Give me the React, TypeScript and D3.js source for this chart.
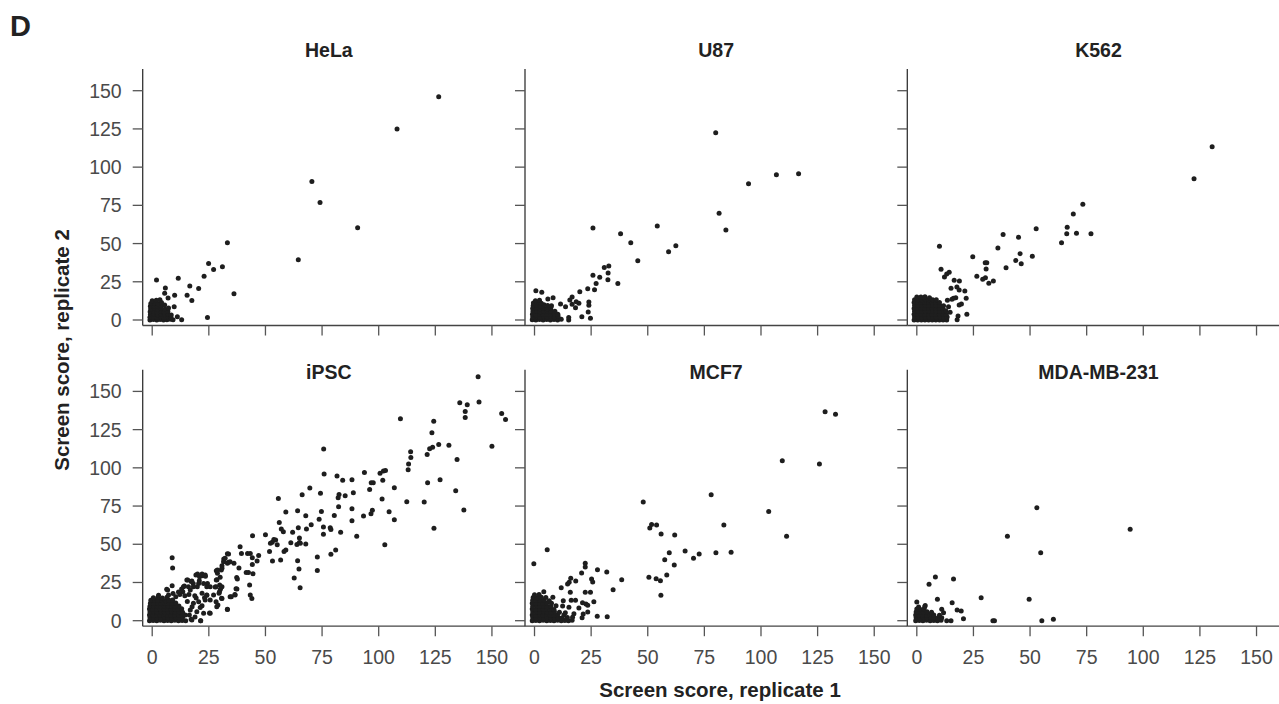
import React from "react";
import * as d3 from "d3";

type Pt = [number, number];

const cellLines = ["HeLa", "U87", "K562", "iPSC", "MCF7", "MDA-MB-231"];
const tickValues = [0, 25, 50, 75, 100, 125, 150];
const xTitle = "Screen score, replicate 1";
const yTitle = "Screen score, replicate 2";

// HeLa: dense cluster near the origin, then the scattered hits
const helaCluster: Pt[] = [
  [-1, 0], [0.5, 0.3], [2, 0], [3.5, 0.4], [5, 0], [6.5, 0.2], [8, 0.5], [9.2, 0.1],
  [-1, 1.8], [0.6, 2], [2.1, 1.6], [3.6, 2.1], [5.2, 1.7], [6.8, 2.2], [8.2, 1.9],
  [-0.8, 3.6], [0.8, 3.8], [2.3, 3.4], [3.9, 3.9], [5.4, 3.5], [7, 3.8], [8.4, 3.3],
  [-0.9, 5.4], [0.7, 5.6], [2.2, 5.2], [3.8, 5.7], [5.3, 5.3], [6.9, 5.8],
  [-0.7, 7.2], [0.9, 7.5], [2.4, 7], [4, 7.6], [5.6, 7.1], [7.2, 7.9],
  [-0.8, 9], [0.8, 9.3], [2.3, 8.9], [3.9, 9.4], [5.5, 9.8],
  [-0.6, 10.8], [1, 11.1], [2.6, 10.7], [4.1, 11.4],
  [0, 12.6], [1.8, 12.9], [3.4, 13.2],
];
const helaHits: Pt[] = [
  [126.5, 146.1], [108.1, 124.9], [70.5, 90.6], [74.1, 76.8], [90.7, 60.4], [64.5, 39.4],
  [33.2, 50.5], [24.9, 37], [27.1, 33], [31, 34.8], [22.9, 28.6], [36.1, 17.1],
  [20.5, 20.6], [16.6, 22.3], [15.4, 16.2], [17.5, 12.7], [11.5, 27.3], [1.9, 26.2],
  [24.4, 1.7], [5.8, 21], [5.5, 17.5], [9.9, 16.2], [7, 14.4], [9.7, 8.7], [11.1, 2.2],
  [13, 0.2],
];

const u87Cluster: Pt[] = [
  [-1, 0.2], [0.6, 0], [2.2, 0.3], [3.8, 0], [5.4, 0.4], [7, 0], [8.6, 0.3], [10.2, 0], [11.8, 0.5],
  [-0.8, 1.9], [0.8, 2.1], [2.4, 1.7], [4, 2.2], [5.6, 1.8], [7.2, 2.3], [8.8, 1.9], [10.4, 2.4],
  [-0.9, 3.8], [0.7, 3.5], [2.3, 4], [3.9, 3.6], [5.5, 4.1], [7.1, 3.7], [8.7, 4.2], [10.3, 3.8],
  [-0.7, 5.6], [0.9, 5.9], [2.5, 5.4], [4.1, 6], [5.7, 5.5], [7.3, 6.1], [9, 5.7],
  [-0.8, 7.5], [0.8, 7.8], [2.4, 7.3], [4, 7.9], [5.6, 7.4], [7.2, 8],
  [-0.6, 9.4], [1, 9.7], [2.6, 9.2], [4.2, 9.9], [5.8, 9.5],
  [-0.5, 11.2], [1.3, 11.5], [3, 11], [0.4, 12.6], [2.2, 12.9],
];
const u87Hits: Pt[] = [
  [80, 122.5], [106.8, 95], [116.6, 95.7], [94.5, 89.2], [81.5, 69.8], [84.5, 58.9],
  [54.2, 61.5], [62.4, 48.5], [59.2, 44.7], [45.6, 38.8], [42.5, 50.5], [38, 56.4],
  [25.8, 60.2], [32.8, 35.3], [30.8, 34.4], [32.5, 30.7], [28.8, 27.9], [32.4, 26.4],
  [36.8, 23.8], [25.8, 29.3], [27.2, 23.8], [26.5, 19.8], [23.5, 20.5], [20, 18.5],
  [24, 11.8], [24, 9.6], [23.7, 5.2], [24.7, 1.1], [20.9, 2.2], [15.1, 0], [15.1, 1.7],
  [16.6, 15], [15.6, 13.1], [18.4, 12], [19.6, 10.9], [18.1, 8], [16.6, 10.3],
  [13.7, 8.7], [11.5, 10.5], [8.2, 14.6], [5.9, 13.7], [3.2, 18.1], [0.6, 19.2], [7.5, 9.4],
];

const k562Cluster: Pt[] = [
  [-1.2, 0], [0.4, 0], [2, 0], [3.6, 0], [5.2, 0], [6.8, 0], [8.4, 0], [10, 0], [11.6, 0], [13.2, 0],
  [-1, 1.9], [0.6, 1.9], [2.2, 1.9], [3.8, 1.9], [5.4, 1.9], [7, 1.9], [8.6, 1.9], [10.2, 1.9], [11.8, 1.9], [13.4, 1.9],
  [-1.2, 3.8], [0.4, 3.8], [2, 3.8], [3.6, 3.8], [5.2, 3.8], [6.8, 3.8], [8.4, 3.8], [10, 3.8], [11.6, 3.8], [13, 3.8],
  [-1, 5.7], [0.6, 5.7], [2.2, 5.7], [3.8, 5.7], [5.4, 5.7], [7, 5.7], [8.6, 5.7], [10.2, 5.7], [11.8, 5.7],
  [-1.2, 7.6], [0.4, 7.6], [2, 7.6], [3.6, 7.6], [5.2, 7.6], [6.8, 7.6], [8.4, 7.6], [10, 7.6], [11.5, 7.6],
  [-1, 9.5], [0.6, 9.5], [2.2, 9.5], [3.8, 9.5], [5.4, 9.5], [7, 9.5], [8.6, 9.5], [10.2, 9.5],
  [-1.2, 11.4], [0.4, 11.4], [2, 11.4], [3.6, 11.4], [5.2, 11.4], [6.8, 11.4], [8.4, 11.4], [10, 11.4],
  [-1, 13.3], [0.6, 13.3], [2.2, 13.3], [3.8, 13.3], [5.4, 13.3], [7, 13.3], [8.6, 13.3],
  [0, 15], [1.8, 15], [3.6, 15.2], [5.6, 14.6],
];
const k562Hits: Pt[] = [
  [130.4, 113.3], [122.4, 92.4], [73.3, 75.7], [69.1, 69.3], [66.4, 60.6], [66.2, 56.5],
  [70.5, 56.7], [76.9, 56.5], [63.9, 50.6], [52.7, 59.7], [51, 41.7], [44.9, 54.1],
  [45.6, 43.4], [43.7, 39], [46.1, 36.8], [38.1, 56], [35.8, 47.1], [39.4, 34.2],
  [24.7, 41.4], [30.2, 37.5], [30.9, 37.5], [30.6, 33.4], [26.5, 28.6], [29.1, 26.6],
  [30.3, 27.7], [31.8, 24], [33.8, 25.5], [10, 48.2], [10.7, 33.2], [12.2, 28.1],
  [13.2, 30.1], [14.3, 31.2], [16.5, 26], [18.8, 25.5], [15.1, 20.7], [17.7, 21.6],
  [18.7, 19.6], [21.2, 19], [17.2, 14.6], [19.7, 10.5], [18.7, 9.8], [21.8, 14.2],
  [22.1, 3.7], [18.2, 2.6], [17.8, 0.2], [13.5, 12.9], [15.5, 13.5], [16.2, 14.2],
  [14, 8.7], [11.8, 9.4], [12.8, 6.1], [14.7, 5],
];

const ipscCluster: Pt[] = [
  [-1.2, 0], [0.4, 0.2], [2, 0], [3.6, 0.3], [5.2, 0], [6.8, 0.2], [8.4, 0], [10, 0.3], [11.6, 0], [13.2, 0.2], [14.8, 0],
  [-1, 1.9], [0.6, 1.7], [2.2, 2], [3.8, 1.8], [5.4, 2.1], [7, 1.9], [8.6, 1.7], [10.2, 2], [11.8, 1.8], [13.4, 2.1],
  [-1.2, 3.8], [0.4, 3.6], [2, 3.9], [3.6, 3.7], [5.2, 4], [6.8, 3.8], [8.4, 3.6], [10, 3.9], [11.6, 3.7], [13.2, 4], [14.6, 3.8],
  [-1, 5.7], [0.6, 5.9], [2.2, 5.6], [3.8, 5.8], [5.4, 5.5], [7, 5.7], [8.6, 5.9], [10.2, 5.6], [11.8, 5.8], [13.4, 5.5],
  [-1.2, 7.6], [0.4, 7.4], [2, 7.7], [3.6, 7.5], [5.2, 7.8], [6.8, 7.6], [8.4, 7.4], [10, 7.7], [11.6, 7.5], [13, 7.8],
  [-1, 9.5], [0.6, 9.7], [2.2, 9.4], [3.8, 9.6], [5.4, 9.3], [7, 9.5], [8.6, 9.7], [10.2, 9.4], [11.8, 9.6],
  [-0.8, 11.4], [0.8, 11.2], [2.4, 11.5], [4, 11.3], [5.6, 11.6], [7.2, 11.4], [8.8, 11.2], [10.4, 11.5],
  [-0.6, 13.3], [1, 13.5], [2.6, 13.2], [4.2, 13.4], [5.8, 13.1], [7.4, 13.3], [9, 13.6],
  [0.5, 15], [2.5, 15.2], [4.5, 14.9], [6.5, 15.3],
];
const ipscHits: Pt[] = [
  [143.9, 159.6], [144.3, 143], [135.8, 142.6], [139.1, 141.3], [138.2, 136.9], [138.2, 133],
  [154.3, 135.6], [156, 131.7], [150, 114.2], [134.6, 105.5], [134, 85], [137.6, 72.4],
  [131, 114.7], [126.5, 115.3], [124.3, 130.4], [123.5, 123], [123.8, 113.4], [122.5, 112.5],
  [121.4, 108.8], [121.6, 90.3], [127.1, 92.2], [120.1, 77.6], [124.4, 60.4], [109.6, 132.1],
  [114.1, 110.5], [114.2, 106.8], [113.2, 102.5], [113, 98.8], [112.4, 77.8], [106.9, 87],
  [106.9, 66.1], [104.6, 71.3], [102.7, 49.7], [101.5, 79.6], [100.6, 96.4], [101.8, 91.8],
  [102.1, 97.9], [103, 98.3], [97.6, 90.3], [96.7, 90.3], [97.2, 72.2], [96.6, 70],
  [96, 85.9], [93.7, 97], [93.3, 68.5], [90.3, 55.2], [88.8, 83.7], [88.2, 73.3],
  [88.2, 65.4], [88.2, 92.2], [84.1, 91.8], [85.2, 81.8], [82.5, 82.6], [82.1, 80.4],
  [82.3, 74.6], [81.6, 94.6], [83.2, 57.8], [80.4, 68.9], [81, 46.2], [78.9, 43.4],
  [78.6, 60.8], [78.9, 59.7], [75.9, 95.9], [75.7, 112.3], [75.6, 61.3], [75.6, 56.5],
  [74.7, 71.5], [74.3, 83.3], [73.7, 66.3], [72.9, 41.6], [72.9, 32.9], [70.2, 62.8],
  [69.6, 86.8], [67.8, 68.7], [68.1, 60], [67.8, 50.1], [66.2, 82.4], [64.2, 71.9],
  [64.5, 60.8], [65, 54.1], [65, 51.2], [63.9, 49.9], [65.4, 50.6], [64.2, 39.2],
  [64.8, 33.8], [62.7, 27.9], [65.3, 21.6], [62, 57.8], [61.2, 51], [59, 71.1],
  [59, 46.2], [58.2, 45.3], [57.9, 58.2], [57, 60], [56.1, 64.3], [55.7, 80],
  [56.7, 39.7], [55.2, 49.7], [54.5, 52.8], [53.7, 53.2], [53, 51.4], [52.2, 50.6],
  [51.8, 45.3], [53.1, 39], [50, 56.2], [44.3, 55.6], [47, 42.7], [46.3, 39],
  [44.2, 36.8], [44.5, 30.7], [44, 14.6], [43.3, 16.8], [43, 23.3], [44.2, 41.2],
  [43.3, 44], [42.1, 44], [42.5, 31.6], [41.5, 31.6], [38.8, 48.4], [39.4, 44],
  [38.3, 34.4], [37.3, 28.3], [37.6, 27.3], [37, 20.9], [36.5, 17.2], [34.9, 15.7],
  [36.1, 37.5], [33.7, 38.2], [33.2, 43.8], [31.6, 40.3], [30.8, 36], [30.5, 33.1],
  [28.3, 32.7], [28.6, 26.8], [29.8, 23.3], [30.1, 20.5], [29.5, 17.9], [30.8, 14.6],
  [33.2, 7.4], [29, 10.2], [27.8, 22], [25.3, 5], [22, 9.8], [21.4, 0], [17.2, 0.9],
  [24.4, 24.4], [24.1, 16.6], [23.5, 29], [22, 30.5], [20.8, 26.2], [19.3, 29.9],
  [19.9, 22.2], [23.1, 15], [18.1, 24.4], [17.2, 25.7], [15.7, 26.6], [16, 22.2],
  [14.2, 22.7], [13, 20.7], [8.8, 41.2], [9, 34.4], [8.8, 22.9], [6.4, 20.5], [2.8, 16.6],
  [6.8, 20], [13.8, 22.2], [13.5, 19], [15.3, 26.6], [17.5, 26], [20, 30.5], [20.9, 28.8],
  [22, 29.4], [23.4, 29.9], [16.8, 20], [18.2, 22.2], [20.5, 24.4], [22.7, 24.4],
  [24.1, 22.2], [22, 18], [24.1, 16.8], [25.6, 22.2], [23.4, 13.5], [20.5, 12.4],
  [18.2, 11.4], [16.8, 7], [19.7, 5.9], [22.7, 4.8], [25.6, 4.8], [17.5, 0.5], [21.4, 0],
  [28.8, 31], [30, 28.4], [28.2, 22.2], [29.7, 19], [30.8, 22.2], [28.2, 12.4],
  [28.5, 9.2], [30.6, 14.7], [33.2, 7.5], [34.4, 15.7], [36.6, 16.8], [37.4, 20.7],
  [25.6, 13.5], [27.1, 16.8], [31.5, 38.6], [32.2, 40.8], [33.7, 43.6], [34.4, 38.6],
  [30.8, 34.3], [28.8, 33.2], [28.3, 26.6], [33.2, 37.5], [16.2, 17.2], [18.8, 16.4],
  [15.5, 12.6], [17.6, 9.2], [19.4, 14.8], [21.2, 8.6], [16.4, 3.8], [18.9, 2.4],
  [12.2, 17.1], [10.4, 15.6], [14.4, 16.4], [11.6, 18.8], [9.2, 17.8], [7.2, 16.8],
];

const mcf7Cluster: Pt[] = [
  [-1, 0], [0.6, 0.2], [2.2, 0], [3.8, 0.3], [5.4, 0], [7, 0.2], [8.6, 0], [10.2, 0.3], [11.8, 0], [13.4, 0.2], [15, 0], [16.6, 0.3],
  [-0.8, 1.9], [0.8, 1.7], [2.4, 2], [4, 1.8], [5.6, 2.1], [7.2, 1.9], [8.8, 1.7], [10.4, 2], [12, 1.8], [14.5, 2.1],
  [-1, 3.8], [0.6, 3.6], [2.2, 3.9], [3.8, 3.7], [5.4, 4], [7, 3.8], [8.6, 3.6], [10.2, 3.9], [13, 3.7],
  [-0.8, 5.7], [0.8, 5.9], [2.4, 5.6], [4, 5.8], [5.6, 5.5], [7.2, 5.7], [8.8, 5.9], [11, 5.6],
  [-1, 7.6], [0.6, 7.4], [2.2, 7.7], [3.8, 7.5], [5.4, 7.8], [7, 7.6], [8.6, 7.4],
  [-0.8, 9.5], [0.8, 9.7], [2.4, 9.4], [4, 9.6], [5.6, 9.3], [7.2, 9.5], [9.5, 9.7],
  [-1, 11.4], [0.6, 11.2], [2.2, 11.5], [3.8, 11.3], [5.4, 11.6], [7.5, 11.4],
  [-0.8, 13.3], [0.8, 13.5], [2.4, 13.2], [4.2, 13.4], [6.5, 13.1],
  [-0.6, 15.2], [1.2, 15], [3, 15.3], [5, 15.1],
  [0, 17], [2, 17.2],
];
const mcf7Hits: Pt[] = [
  [128.3, 136.7], [132.9, 135], [109.4, 104.6], [125.8, 102.5], [103.4, 71.5], [111.3, 55.2],
  [78, 82.4], [83.6, 62.6], [80.1, 44.5], [86.8, 44.7], [72.7, 43.6], [70.2, 40.8],
  [66.5, 45.6], [48, 77.6], [50.9, 60.6], [51.7, 63], [53.9, 62.6], [55.9, 56.7],
  [61.9, 56], [59.5, 44.5], [57.5, 39.9], [61.7, 36.4], [58.4, 29.9], [50.5, 28.4],
  [53.7, 27.5], [55.6, 26.2], [55.8, 16.6], [38.5, 26.8], [34.7, 20.3], [31.9, 31.8],
  [27.8, 33.4], [22.4, 37.5], [22.4, 35.1], [20.8, 31.2], [25.2, 27.3], [25.7, 25.3],
  [16, 27.7], [15.3, 25.1], [14.6, 24], [18.2, 26], [11.8, 21.6], [15.8, 18.6],
  [22.4, 18.6], [24.7, 18.6], [16.2, 13.3], [18.1, 13.3], [21.2, 11.8], [22.7, 10.9],
  [26.2, 12.4], [23.5, 10.1], [19.6, 8.3], [23.5, 5.7], [21.5, 4.4], [21, 2], [16.8, 2.2],
  [27.7, 2.9], [32.1, 2.6], [12.7, 13.1], [8.1, 15.3], [5.6, 46.4], [-0.3, 37.3], [4.1, 19],
  [13.6, 5.2], [15.2, 8.8], [12.4, 9.6], [17.4, 4.6], [14.2, 1.4],
];

const mdaCluster: Pt[] = [
  [-0.5, 0], [1.1, 0.2], [2.7, 0], [4.3, 0.3], [5.9, 0], [7.5, 0.2], [9.1, 0], [10.7, 0.3],
  [-0.3, 1.9], [1.3, 1.7], [2.9, 2], [4.5, 1.8], [6.1, 2.1], [7.7, 1.9], [9.3, 1.7], [11, 2],
  [-0.5, 3.8], [1.1, 3.6], [2.7, 3.9], [4.3, 3.7], [5.9, 4], [7.5, 3.8], [10, 3.6],
  [-0.3, 5.7], [1.3, 5.9], [2.9, 5.6], [4.5, 5.8], [6.5, 5.5],
  [0, 7.6], [1.6, 7.4], [3.2, 7.7],
  [0.8, 9], [3.5, 9.2],
];
const mdaHits: Pt[] = [
  [94.2, 59.8], [53, 73.9], [40, 55.2], [54.7, 44.5], [49.6, 14], [28.4, 15],
  [60.3, 0.9], [55.2, 0], [34.3, 0], [33.6, 0], [8.2, 28.6], [16.2, 27.3],
  [5.4, 23.8], [9.1, 14], [15.6, 11.8], [17.8, 7], [19.6, 6.3], [20.6, 1.3],
  [13.2, 0], [15.1, 0], [11, 7.5], [11.8, 5.2], [3.7, 10], [0, 12.2],
];

const panelPoints: Pt[][] = [
  [...helaCluster, ...helaHits],
  [...u87Cluster, ...u87Hits],
  [...k562Cluster, ...k562Hits],
  [...ipscCluster, ...ipscHits],
  [...mcf7Cluster, ...mcf7Hits],
  [...mdaCluster, ...mdaHits],
];

const W = 1279;
const H = 704;
const colLeft = [142.7, 525, 907.3];
const rowTop = [69, 369.7];
const panelW = 382.3;
const panelH = 256.5;
const titleY = [57, 379];
// the first column's titles sit a little left of the panel centre
const titleShift = [-5, 0, 0];
const font = "'Liberation Sans', Arial, Helvetica, sans-serif";

const Panel = ({ idx }: { idx: number }) => {
  const col = idx % 3;
  const row = Math.floor(idx / 3);
  const left = colLeft[col];
  const top = rowTop[row];
  const bottom = top + panelH;
  const x = d3.scaleLinear().domain([-4.2, 164.6]).range([left, left + panelW]);
  const y = d3.scaleLinear().domain([-3.6, 164.2]).range([bottom, top]);

  return (
    <g>
      <text
        x={left + panelW / 2 + titleShift[col]}
        y={titleY[row]}
        textAnchor="middle"
        fontFamily={font}
        fontWeight="bold"
        fontSize={19.5}
        fill="#222"
      >
        {cellLines[idx]}
      </text>
      {panelPoints[idx].map((d, i) => (
        <circle key={i} cx={x(d[0])} cy={y(d[1])} r={2.5} fill="#1e1e1e" />
      ))}
      <line x1={left} x2={left} y1={top} y2={bottom} stroke="#333" strokeWidth={1.3} />
      <line x1={left} x2={left + panelW} y1={bottom} y2={bottom} stroke="#444" strokeWidth={1.3} />
      {tickValues.map((t) => (
        <g key={"y" + t}>
          <line x1={left - 10} x2={left} y1={y(t)} y2={y(t)} stroke="#555" strokeWidth={1.3} />
          {col === 0 && (
            <text
              x={left - 21}
              y={y(t) + 7}
              textAnchor="end"
              fontFamily={font}
              fontSize={19.5}
              fill="#4a4a4a"
            >
              {t}
            </text>
          )}
        </g>
      ))}
      {tickValues.map((t) => (
        <g key={"x" + t}>
          <line x1={x(t)} x2={x(t)} y1={bottom} y2={bottom + 10} stroke="#555" strokeWidth={1.3} />
          {row === 1 && (
            <text
              x={x(t)}
              y={bottom + 37.5}
              textAnchor="middle"
              fontFamily={font}
              fontSize={19.5}
              fill="#4a4a4a"
            >
              {t}
            </text>
          )}
        </g>
      ))}
    </g>
  );
};

export default function App() {
  return (
    <svg
      width={W}
      height={H}
      style={{ position: "absolute", left: 0, top: 0, background: "#fff" }}
    >
      <text x={10} y={36} fontFamily={font} fontWeight="bold" fontSize={29} fill="#222">
        D
      </text>
      {cellLines.map((_, i) => (
        <Panel key={i} idx={i} />
      ))}
      <text
        x={720}
        y={697}
        textAnchor="middle"
        fontFamily={font}
        fontWeight="bold"
        fontSize={20.5}
        fill="#222"
      >
        {xTitle}
      </text>
      <text
        transform="translate(69,350) rotate(-90)"
        textAnchor="middle"
        fontFamily={font}
        fontWeight="bold"
        fontSize={20.5}
        fill="#222"
      >
        {yTitle}
      </text>
    </svg>
  );
}
